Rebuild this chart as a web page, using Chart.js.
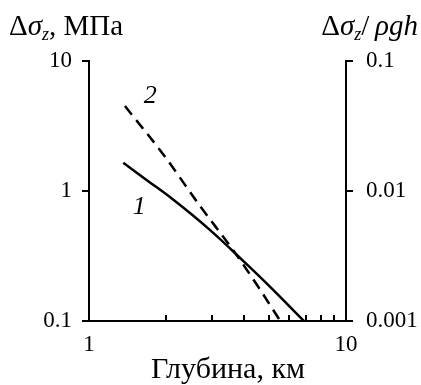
<!DOCTYPE html>
<html>
<head>
<meta charset="utf-8">
<script src="https://cdn.jsdelivr.net/npm/chart.js@4.4.1/dist/chart.umd.min.js"></script>
<style>
  body { margin: 0; background: #fff; }
  #wrap { position: relative; width: 421px; height: 385px; }
  .hdr { position: absolute; font-family: "Liberation Serif", serif; font-size: 29px; line-height: 29px; color: #000; white-space: nowrap; }
  .hdr i { font-style: italic; }
  .hdr sub { font-size: 18px; vertical-align: -5px; line-height: 0; }
  #xtitle { position: absolute; left: 128px; width: 200px; top: 353px; text-align: center; font-family: "Liberation Serif", serif; font-size: 30px; line-height: 30px; color: #000; white-space: nowrap; }
</style>
</head>
<body>
<div id="wrap">
  <canvas id="chart" width="421" height="385"></canvas>
  <div class="hdr" style="left:9px; top:11px;">Δ<i>σ</i><sub><i>z</i></sub>, МПа</div>
  <div class="hdr" style="right:3px; top:11px;">Δ<i>σ</i><sub><i>z</i></sub>/&thinsp;<i>ρgh</i></div>
  <div id="xtitle">Глубина, км</div>
</div>
<script>
// depth, km
const depth1 = [1.36, 1.7, 2.07, 2.96, 3.98, 5.0, 6.86];
const sigma1 = [1.65, 1.19, 0.894, 0.50, 0.29, 0.188, 0.1];
const depth2 = [1.38, 1.95, 2.7, 3.64, 4.5, 5.55];
const sigma2 = [4.5, 1.9, 0.77, 0.35, 0.19, 0.1];

const xTicks = [1, 10];
const yTicks = [0.1, 1, 10];
const y2Ticks = [0.001, 0.01, 0.1];

const serif = "'Liberation Serif', serif";

// curve numbers, placed in data coordinates
const curveLabels = [
    { text: "2", x: 1.73, y: 5.4 },
    { text: "1", x: 1.57, y: 0.75 }
];

const labelPlugin = {
    id: "curveLabels",
    afterDatasetsDraw(chart) {
        const { ctx, scales } = chart;
        ctx.save();
        ctx.font = "italic 26px " + serif;
        ctx.fillStyle = "#000";
        ctx.textAlign = "center";
        ctx.textBaseline = "middle";
        curveLabels.forEach(l => {
            ctx.fillText(l.text, scales.x.getPixelForValue(l.x), scales.y.getPixelForValue(l.y));
        });
        ctx.restore();
    }
};

const toPoints = (xs, ys) => xs.map((x, i) => ({ x, y: ys[i] }));
const setTicks = list => scale => { scale.ticks = list.map(v => ({ value: v })); };

new Chart(document.getElementById("chart").getContext("2d"), {
    type: "line",
    data: {
        datasets: [
            { label: "1", data: toPoints(depth1, sigma1), borderColor: "#000", borderWidth: 2.5, pointRadius: 0, cubicInterpolationMode: "monotone" },
            { label: "2", data: toPoints(depth2, sigma2), borderColor: "#000", borderWidth: 2.5, borderDash: [11, 7], pointRadius: 0, cubicInterpolationMode: "monotone" }
        ]
    },
    options: {
        responsive: false,
        animation: false,
        layout: { padding: { top: 61, left: 0, right: 0, bottom: 0 } },
        plugins: { legend: { display: false }, tooltip: { enabled: false } },
        scales: {
            x: {
                type: "logarithmic", position: "bottom", min: 1, max: 10,
                afterBuildTicks: setTicks(xTicks),
                afterFit: s => { s.height = 64; },
                grid: { display: false },
                border: { display: true, color: "#000", width: 2 },
                ticks: { color: "#000", font: { family: serif, size: 23 }, padding: 2, maxRotation: 0, autoSkip: false, callback: v => String(v) }
            },
            y: {
                type: "logarithmic", position: "left", min: 0.1, max: 10,
                afterBuildTicks: setTicks(yTicks),
                afterFit: s => { s.width = 89; },
                grid: { display: true, drawOnChartArea: false, drawTicks: true, tickLength: 7, color: "#000", lineWidth: 2 },
                border: { display: true, color: "#000", width: 2 },
                ticks: { color: "#000", font: { family: serif, size: 23 }, padding: 10, callback: v => String(v) }
            },
            y2: {
                type: "logarithmic", position: "right", min: 0.001, max: 0.1,
                afterBuildTicks: setTicks(y2Ticks),
                afterFit: s => { s.width = 75; },
                grid: { display: true, drawOnChartArea: false, drawTicks: true, tickLength: 7, color: "#000", lineWidth: 2 },
                border: { display: true, color: "#000", width: 2 },
                ticks: { color: "#000", font: { family: serif, size: 23 }, padding: 13, callback: v => String(v) }
            }
        }
    },
    plugins: [labelPlugin, {
        // short inward minor ticks on the depth axis
        id: "minorTicks",
        afterDraw(chart) {
            const { ctx, scales, chartArea } = chart;
            ctx.save();
            ctx.strokeStyle = "#000";
            ctx.lineWidth = 2;
            for (let v = 2; v <= 9; v++) {
                const px = Math.round(scales.x.getPixelForValue(v));
                ctx.beginPath();
                ctx.moveTo(px, chartArea.bottom);
                ctx.lineTo(px, chartArea.bottom - 6);
                ctx.stroke();
            }
            ctx.restore();
        }
    }]
});
</script>
</body>
</html>
